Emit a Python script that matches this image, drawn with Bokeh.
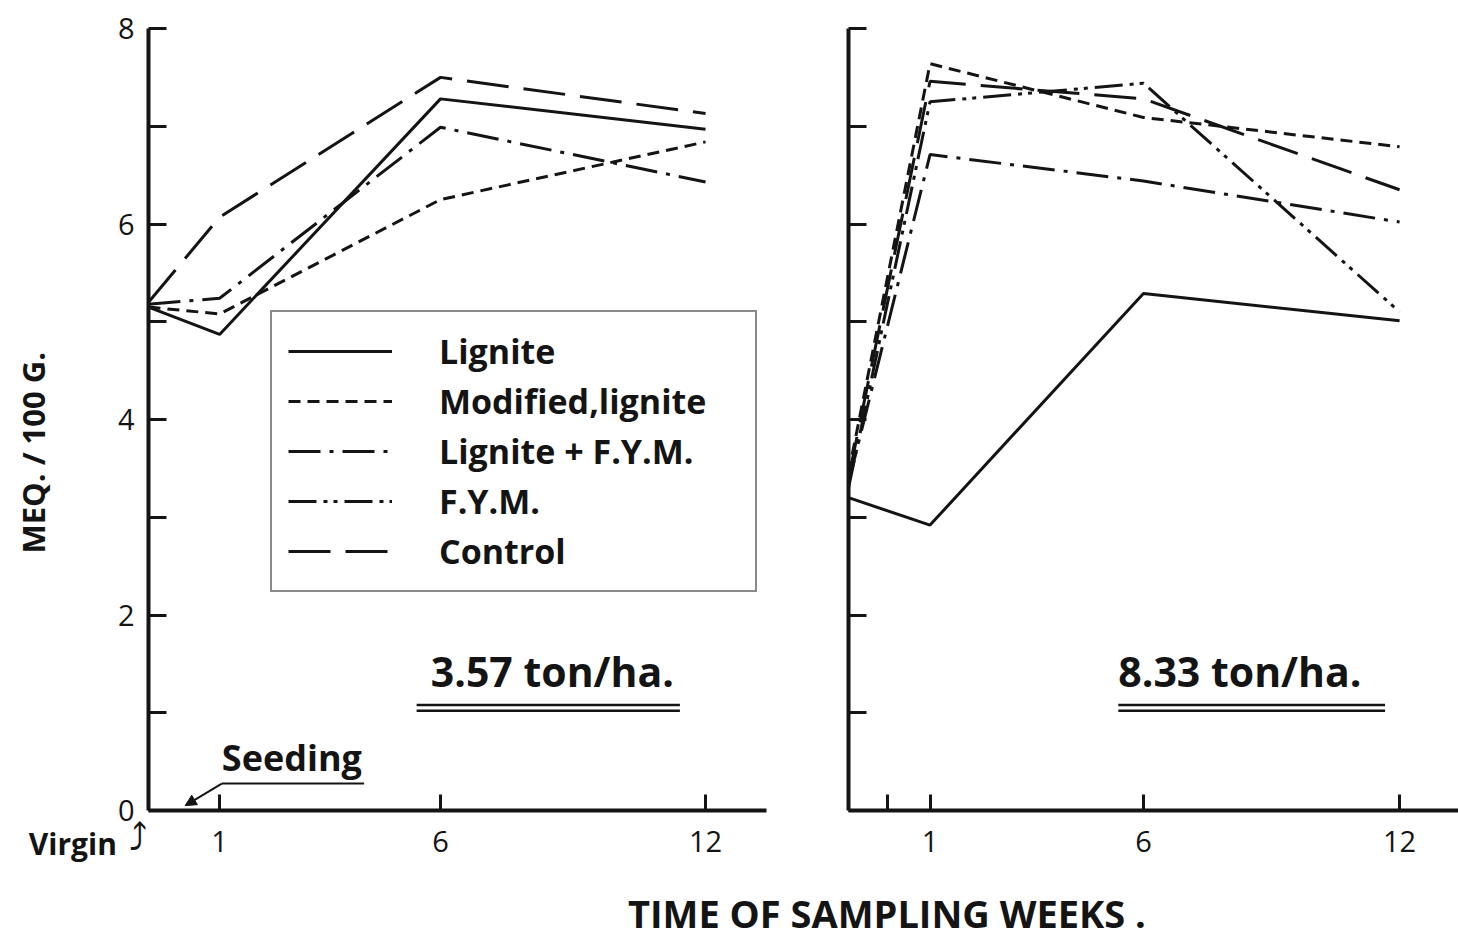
import math
from bokeh.plotting import figure
from bokeh.models import Range1d, FixedTicker, Legend, LegendItem, Label, Arrow, NormalHead
from bokeh.layouts import column, row
from bokeh.embed import file_html
from bokeh.resources import INLINE

nan = float("nan")

# ---------------- data ----------------
sampling_labels = ["Virgin", "1", "6", "12"]
sampling_weeks = [0, 1, 6, 12]
week_tick_values = [1, 6, 12]
week_tick_labels = ["1", "6", "12"]
y_tick_labels = ["0", "2", "4", "6", "8"]

series_names = ["Lignite", "Modified,lignite", "Lignite + F.Y.M.", "F.Y.M.", "Control"]

# 3.57 ton/ha (left panel) - F.Y.M. is not drawn in this panel
lignite_357 = [5.15, 4.87, 7.28, 6.97]
modified_357 = [5.15, 5.08, 6.25, 6.84]
lig_fym_357 = [5.18, 5.24, 6.99, 6.43]
fym_357 = [nan, nan, nan, nan]
control_357 = [5.20, 6.07, 7.50, 7.13]

# 8.33 ton/ha (right panel)
lignite_833 = [3.20, 2.92, 5.29, 5.01]
modified_833 = [3.45, 7.64, 7.09, 6.79]
lig_fym_833 = [3.35, 6.71, 6.44, 6.02]
fym_833 = [3.30, 7.25, 7.44, 5.10]
control_833 = [3.40, 7.46, 7.28, 6.35]

# ---------------- styles ----------------
FONT = "Open Sans"
INK = "#141414"
LW = 3
dashes = ["solid", "12 7", "32 9 4 9", "28 7 4 6 4 7", "42 15"]

LEFT_X0, LEFT_X1 = -0.61, 13.38
RIGHT_X0, RIGHT_X1 = -0.91, 13.38


def positions(x0, vals):
    xs = [x0 if w == 0 else w for w in sampling_weeks]
    return xs[:len(vals)]


def make_fig(width, x0, x1, mbl, mbr):
    p = figure(width=width, height=880, x_range=Range1d(x0, x1), y_range=Range1d(0, 8),
               output_backend="svg", toolbar_location=None, title=None,
               min_border_left=mbl, min_border_right=mbr, min_border_top=28, min_border_bottom=70)
    p.grid.visible = False
    p.outline_line_color = None
    p.background_fill_color = "white"
    p.border_fill_color = "white"
    for ax in (p.xaxis[0], p.yaxis[0]):
        ax.axis_line_width = 4
        ax.axis_line_color = INK
        ax.major_tick_line_width = 3
        ax.major_tick_line_color = INK
        ax.major_tick_out = 0
        ax.minor_tick_line_color = None
        ax.major_label_text_font = FONT
        ax.major_label_text_font_size = "29px"
        ax.major_label_text_color = INK
    p.xaxis.major_tick_in = 16
    p.yaxis.major_tick_in = 18
    p.xaxis.major_label_standoff = 20
    p.yaxis.major_label_standoff = 14
    p.yaxis.ticker = FixedTicker(ticks=list(range(9)))
    return p


def label(p, x, y, text, size, place=None, **kw):
    opts = dict(text_font=FONT, text_font_size=size, text_font_style="bold",
                text_color=INK, text_baseline="middle")
    opts.update(kw)
    lab = Label(x=x, y=y, text=text, **opts)
    if place:
        p.add_layout(lab, place)
    else:
        p.add_layout(lab)


def rule(p, x0, y0, x1, y1, w=2.5, end=None):
    p.add_layout(Arrow(end=end, x_start=x0, y_start=y0, x_end=x1, y_end=y1,
                       line_width=w, line_color=INK))


# ---------------- left panel ----------------
p1 = make_fig(808, LEFT_X0, LEFT_X1, 148, 38)
p1.xaxis.ticker = FixedTicker(ticks=week_tick_values)
p1.xaxis.major_label_overrides = {t: l for t, l in zip(week_tick_values, week_tick_labels)}
ov = {i: "" for i in range(9)}
for lab in y_tick_labels:
    ov[int(lab)] = lab
p1.yaxis.major_label_overrides = ov

left_series = [lignite_357, modified_357, lig_fym_357, fym_357, control_357]
rends = []
for vals, dash in zip(left_series, dashes):
    r = p1.line(positions(LEFT_X0, vals), vals, line_width=LW, line_color=INK, line_dash=dash)
    rends.append(r)

legend = Legend(items=[LegendItem(label=n, renderers=[r]) for n, r in zip(series_names, rends)],
                location=(122, 218), border_line_color=INK, border_line_width=2.5,
                background_fill_color="white", background_fill_alpha=1.0,
                label_text_font=FONT, label_text_font_size="34px", label_text_color=INK,
                label_text_font_style="bold",
                glyph_width=104, glyph_height=20, label_height=20, label_standoff=47,
                spacing=4, padding=16, label_width=300)
p1.add_layout(legend)

label(p1, 5.78, 1.427, "3.57 ton/ha.", "41px")
for yy in (1.08, 1.02):
    rule(p1, 5.46, yy, 11.42, yy)

label(p1, 1.05, 0.547, "Seeding", "36px")
rule(p1, 1.05, 0.276, 4.27, 0.276, w=2)
rule(p1, 1.05, 0.276, 0.22, 0.05, w=2, end=NormalHead(size=11, fill_color=INK, line_color=INK))

# texts outside the frame go to side panels (not clipped); positioned in data units
label(p1, -3.32, -0.338, sampling_labels[0], "30px", place="left")
label(p1, -1.06, -0.29, "\u2934", "37px", place="left", text_font="DejaVu Sans",
      text_font_style="normal")
label(p1, -3.22, 3.66, "MEQ. / 100 G.", "31px", place="right", angle=math.pi / 2,
      text_align="center")

# ---------------- right panel ----------------
p2 = make_fig(650, RIGHT_X0, RIGHT_X1, 40, 0)
p2.xaxis.ticker = FixedTicker(ticks=[0] + week_tick_values)
ov2 = {0: ""}
ov2.update({t: l for t, l in zip(week_tick_values, week_tick_labels)})
p2.xaxis.major_label_overrides = ov2
p2.yaxis.major_label_overrides = {i: "" for i in range(9)}

right_series = [lignite_833, modified_833, lig_fym_833, fym_833, control_833]
for vals, dash in zip(right_series, dashes):
    p2.line(positions(RIGHT_X0, vals), vals, line_width=LW, line_color=INK, line_dash=dash)

label(p2, 5.41, 1.427, "8.33 ton/ha.", "41px")
for yy in (1.08, 1.02):
    rule(p2, 5.41, yy, 11.66, yy)

# ---------------- shared x label ----------------
p3 = figure(width=1458, height=58, x_range=Range1d(0, 1), y_range=Range1d(0, 58),
            output_backend="svg", toolbar_location=None, min_border=0, title=None)
p3.axis.visible = False
p3.grid.visible = False
p3.outline_line_color = None
label(p3, 0.608, 26, "TIME OF SAMPLING WEEKS .", "38px", text_align="center")

layout = column(row(p1, p2), p3)
open("out.html", "w").write(file_html(layout, INLINE))
